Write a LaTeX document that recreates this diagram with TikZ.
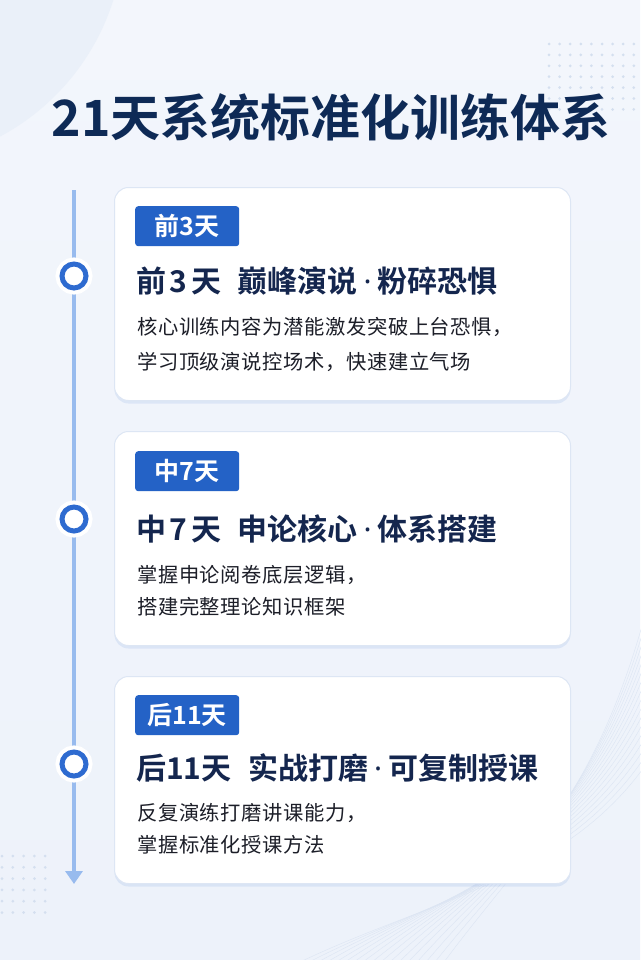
\documentclass[tikz,border=0pt]{standalone}
\usepackage{fontspec}
\setmainfont{Noto Sans CJK SC}[BoldFont={Noto Sans CJK SC Bold}]
\newfontfamily\latinfont{Noto Sans}
\usepackage{tikz}
\usetikzlibrary{arrows.meta, shadows}
\definecolor{bgtop}{HTML}{F3F6FC}
\definecolor{bgbot}{HTML}{EDF2FA}
\definecolor{bgarc}{HTML}{EAF0F9}
\definecolor{titlenavy}{HTML}{0E2A56}
\definecolor{headnavy}{HTML}{14264E}
\definecolor{bodyink}{HTML}{1C1E28}
\definecolor{badgeblue}{HTML}{2462C6}
\definecolor{ringblue}{HTML}{2E6BD0}
\definecolor{lineblue}{HTML}{98BBEE}
\definecolor{cardedge}{HTML}{DDE6F4}
\definecolor{dotgray}{HTML}{D4DFEF}
\definecolor{wavegray}{HTML}{DCE5F3}
\tikzstyle{card} = [draw=cardedge, line width=1pt, fill=white, rounded corners=14pt, minimum width=456pt, anchor=north west, inner sep=0pt, drop shadow={shadow xshift=0pt, shadow yshift=-3pt, opacity=0.10, fill=ringblue}]
\tikzstyle{badge} = [fill=badgeblue, rounded corners=3pt, minimum width=104pt, minimum height=40pt, inner sep=0pt, anchor=north west, text=white, font=\bfseries\fontsize{25}{25}\selectfont]
\tikzstyle{heading} = [anchor=west, inner sep=0pt, text=headnavy, font=\bfseries\fontsize{30}{30}\selectfont]
\tikzstyle{body} = [anchor=west, inner sep=0pt, text=bodyink, font=\fontsize{20.3}{20.3}\selectfont\addfontfeatures{LetterSpace=3}]
\tikzstyle{stop} = [circle, draw=ringblue, line width=5pt, fill=white, minimum size=24pt, inner sep=0pt, preaction={draw=white, line width=13pt}]
\tikzstyle{timeline} = [draw=lineblue, line width=4pt, -{Triangle[width=17pt, length=13pt]}]
\def\sep{\hspace{0.2em}{\latinfont\bfseries ·}\hspace{0.2em}}

\begin{document}
\begin{tikzpicture}[x=1pt, y=-1pt]
\useasboundingbox (0,0) rectangle (640,960);
% background
\fill[top color=bgtop, bottom color=bgbot] (0,0) rectangle (640,960);
\fill[bgarc] (-110,-70) circle (234);
\foreach \i in {0,...,8}
  \foreach \j in {0,...,6}
    \fill[dotgray] (549+\i*10.6, 44+\j*10.9) circle (1.5);
\foreach \i in {0,...,4}
  \foreach \j in {0,...,5}
    \fill[dotgray] (2+\i*10.8, 856+\j*11.3) circle (1.5);
\foreach \i in {0,...,16}
  \draw[wavegray, line width=0.4pt] (300+\i*9, 962) .. controls (430+\i*6, 900-\i*3) and (560+\i*2, 880-\i*5) .. (642, 770-\i*9);

\node[font=\bfseries\fontsize{50}{50}\selectfont, text=titlenavy] (title) at (331,117) {21天系统标准化训练体系};

% timeline
\coordinate (ltop) at (74,190);
\coordinate (lend) at (74,884);
\draw[timeline] (ltop) -- (lend);

% stage 1
\node[card, minimum height=213pt] (c1) at (114,187) {};
\node[badge] (b1) at ([xshift=21pt, yshift=-19pt]c1.north west) {前3天};
\node[heading] (h1) at (136,281) {前\hspace{0.12em}3\hspace{0.12em}天\hspace{0.55em}巅峰演说\sep 粉碎恐惧};
\node[body] (t1a) at (137,327) {核心训练内容为潜能激发突破上台恐惧，};
\node[body] (t1b) at (137,362) {学习顶级演说控场术，快速建立气场};
\node[stop] (s1) at (74,276) {};

% stage 2
\node[card, minimum height=214pt] (c2) at (114,431) {};
\node[badge] (b2) at ([xshift=21pt, yshift=-20pt]c2.north west) {中7天};
\node[heading] (h2) at (136,529) {中\hspace{0.12em}7\hspace{0.12em}天\hspace{0.55em}申论核心\sep 体系搭建};
\node[body] (t2a) at (137,575) {掌握申论阅卷底层逻辑，};
\node[body] (t2b) at (137,607) {搭建完整理论知识框架};
\node[stop] (s2) at (74,519) {};

% stage 3
\node[card, minimum height=207pt] (c3) at (114,676) {};
\node[badge] (b3) at ([xshift=21pt, yshift=-19pt]c3.north west) {后11天};
\node[heading] (h3) at (136,768) {后11天\hspace{0.55em}实战打磨\sep 可复制授课};
\node[body] (t3a) at (137,813) {反复演练打磨讲课能力，};
\node[body] (t3b) at (137,845) {掌握标准化授课方法};
\node[stop] (s3) at (74,764) {};
\end{tikzpicture}
\end{document}
